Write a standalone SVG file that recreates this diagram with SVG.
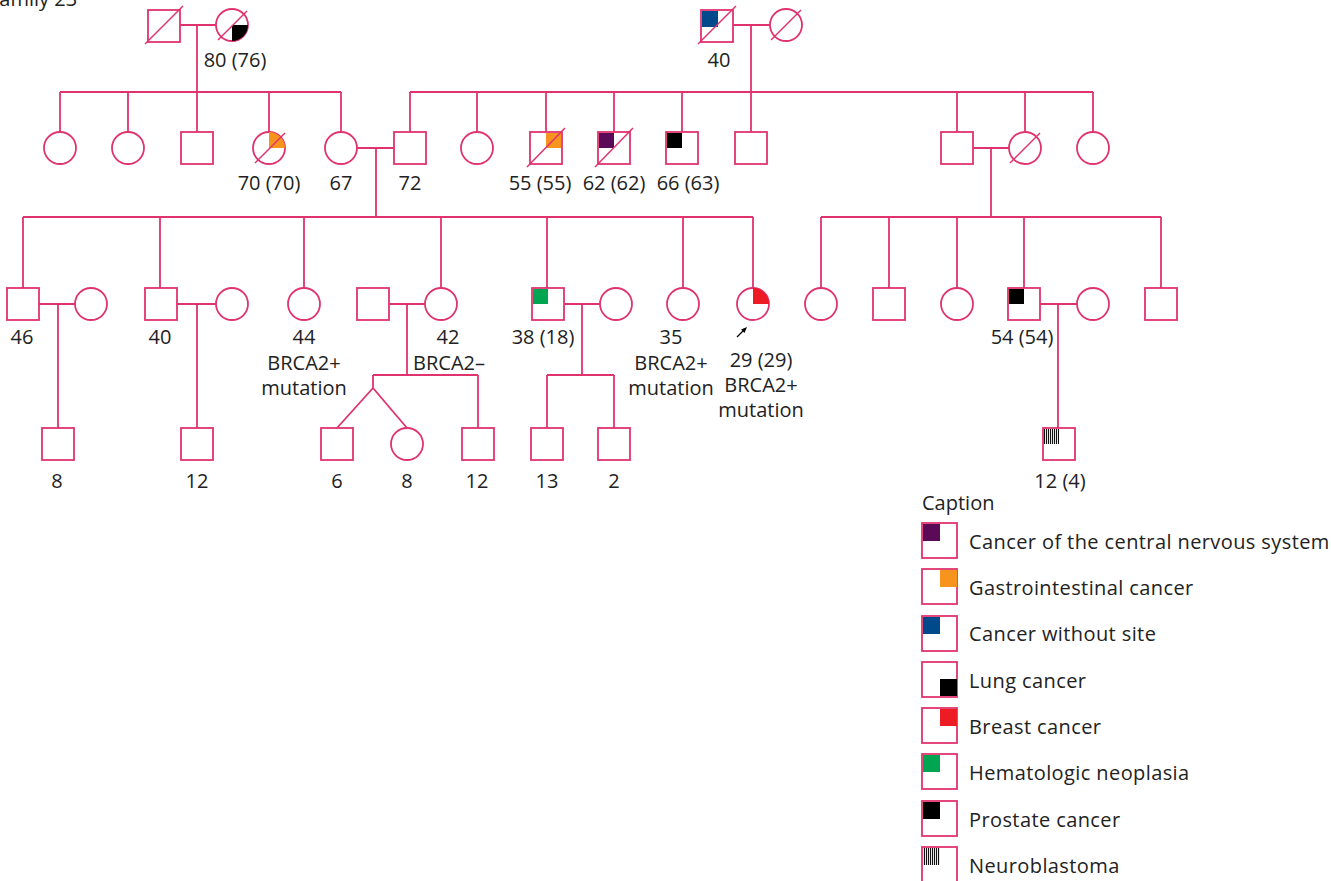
<svg xmlns="http://www.w3.org/2000/svg" width="1331" height="881" viewBox="0 0 1331 881">
<style>
.s{fill:#fff;stroke:#e0336e;stroke-width:1.8}
.l{fill:none;stroke:#e0336e;stroke-width:1.8}
.d{stroke:#e0336e;stroke-width:1.5}
text{font-family:"Open Sans","Liberation Sans",sans-serif;font-size:20px;fill:#222}
.c{text-anchor:middle}
.lg{letter-spacing:0.4px}
.or{fill:#f7941d}.pu{fill:#5a0a57}.bl{fill:#004a8b}.bk{fill:#000}.rd{fill:#ed1c24}.gr{fill:#00a551}
</style>
<defs>
<pattern id="hatch" width="2" height="2" patternUnits="userSpaceOnUse">
<rect width="2" height="2" fill="#fff"/>
<rect width="1.1" height="2" fill="#111"/>
</pattern>
</defs>
<rect width="1331" height="881" fill="#fff"/>
<text x="-11" y="6">Family 23</text>

<g id="connectors">
<path class="l" d="M180,25H216M197,25V92M60,92H341M60,92V132M128,92V132M197,92V132M269,92V132M341,92V132"/>
<path class="l" d="M733,25H770M751,25V92M410,92H1093M410,92V132M477,92V132M546,92V132M614,92V132M682,92V132M751,92V132M957,92V132M1025,92V132M1093,92V132"/>
<path class="l" d="M357,148H394M376,148V217M23,217H753M23,217V288M160,217V288M304,217V288M441,217V288M547,217V288M683,217V288M753,217V288"/>
<path class="l" d="M973,148H1009M991,148V217M821,217H1161M821,217V288M889,217V288M957,217V288M1024,217V288M1161,217V288"/>
<path class="l" d="M39,304H75M58,304V428"/>
<path class="l" d="M177,304H216M197,304V428"/>
<path class="l" d="M389,304H425M407,304V375M373,375H478M373,375V388L337,428M373,388L407,428M478,375V428"/>
<path class="l" d="M563,304H600M582,304V375M547,375H614M547,375V428M614,375V428"/>
<path class="l" d="M1040,304H1077M1058,304V428"/>
</g>

<g id="I1"><rect class="s" x="148" y="10" width="32" height="32"/><line class="d" x1="145" y1="44" x2="183" y2="6"/></g>
<g id="I2"><circle class="s" cx="232" cy="25" r="16"/><path class="bk" d="M232,25H248A16,16 0 0 1 232,41Z"/><line class="d" x1="218" y1="40" x2="247" y2="11"/><text class="c" x="235" y="67">80 (76)</text></g>
<g id="I3"><rect class="s" x="701" y="10" width="32" height="32"/><rect class="bl" x="702" y="11" width="16" height="16"/><line class="d" x1="698" y1="44" x2="736" y2="6"/><text class="c" x="719" y="67">40</text></g>
<g id="I4"><circle class="s" cx="786" cy="25" r="16"/><line class="d" x1="771" y1="40" x2="801" y2="10"/></g>

<g id="II1"><circle class="s" cx="60" cy="148" r="16"/></g>
<g id="II2"><circle class="s" cx="128" cy="148" r="16"/></g>
<g id="II3"><rect class="s" x="181" y="132" width="32" height="32"/></g>
<g id="II4"><circle class="s" cx="269" cy="148" r="16"/><path class="or" d="M269,148V132A16,16 0 0 1 285,148Z"/><line class="d" x1="255" y1="163" x2="285" y2="133"/><text class="c" x="269" y="190">70 (70)</text></g>
<g id="II5"><circle class="s" cx="341" cy="148" r="16"/><text class="c" x="341" y="190">67</text></g>
<g id="II6"><rect class="s" x="394" y="132" width="32" height="32"/><text class="c" x="410" y="190">72</text></g>
<g id="II7"><circle class="s" cx="477" cy="148" r="16"/></g>
<g id="II8"><rect class="s" x="530" y="132" width="32" height="32"/><rect class="or" x="546" y="133" width="15" height="15"/><line class="d" x1="527" y1="167" x2="565" y2="128"/><text class="c" x="540" y="190">55 (55)</text></g>
<g id="II9"><rect class="s" x="598" y="132" width="32" height="32"/><rect class="pu" x="599" y="133" width="15" height="15"/><line class="d" x1="595" y1="167" x2="633" y2="128"/><text class="c" x="614" y="190">62 (62)</text></g>
<g id="II10"><rect class="s" x="666" y="132" width="32" height="32"/><rect class="bk" x="667" y="133" width="15" height="15"/><text class="c" x="688" y="190">66 (63)</text></g>
<g id="II11"><rect class="s" x="735" y="132" width="32" height="32"/></g>
<g id="II12"><rect class="s" x="941" y="132" width="32" height="32"/></g>
<g id="II13"><circle class="s" cx="1025" cy="148" r="16"/><line class="d" x1="1010" y1="163" x2="1040" y2="133"/></g>
<g id="II14"><circle class="s" cx="1093" cy="148" r="16"/></g>

<g id="III1"><rect class="s" x="7" y="288" width="32" height="32"/><text class="c" x="22" y="344">46</text></g>
<g id="III2"><circle class="s" cx="91" cy="304" r="16"/></g>
<g id="III3"><rect class="s" x="145" y="288" width="32" height="32"/><text class="c" x="160" y="344">40</text></g>
<g id="III4"><circle class="s" cx="232" cy="304" r="16"/></g>
<g id="III5"><circle class="s" cx="304" cy="304" r="16"/><text class="c" x="304" y="344">44</text><text class="c" x="304" y="370">BRCA2+</text><text class="c" x="304" y="395">mutation</text></g>
<g id="III6"><rect class="s" x="357" y="288" width="32" height="32"/></g>
<g id="III7"><circle class="s" cx="441" cy="304" r="16"/><text class="c" x="448" y="344">42</text><text class="c" x="449" y="370">BRCA2–</text></g>
<g id="III8"><rect class="s" x="532" y="288" width="32" height="32"/><rect class="gr" x="533" y="289" width="15" height="15"/><text class="c" x="543" y="344">38 (18)</text></g>
<g id="III9"><circle class="s" cx="616" cy="304" r="16"/></g>
<g id="III10"><circle class="s" cx="683" cy="304" r="16"/><text class="c" x="671" y="344">35</text><text class="c" x="671" y="370">BRCA2+</text><text class="c" x="671" y="395">mutation</text></g>
<g id="III11"><circle class="s" cx="753" cy="304" r="16"/><path class="rd" d="M753,304V288A16,16 0 0 1 769,304Z"/>
<line x1="737" y1="337" x2="743" y2="331" stroke="#000" stroke-width="1.3"/><polygon points="747,327 741,329.5 744.5,333" fill="#000"/>
<text class="c" x="761" y="367">29 (29)</text><text class="c" x="761" y="392">BRCA2+</text><text class="c" x="761" y="417">mutation</text></g>
<g id="III12"><circle class="s" cx="821" cy="304" r="16"/></g>
<g id="III13"><rect class="s" x="873" y="288" width="32" height="32"/></g>
<g id="III14"><circle class="s" cx="957" cy="304" r="16"/></g>
<g id="III15"><rect class="s" x="1008" y="288" width="32" height="32"/><rect class="bk" x="1009" y="289" width="15" height="15"/><text class="c" x="1022" y="344">54 (54)</text></g>
<g id="III16"><circle class="s" cx="1093" cy="304" r="16"/></g>
<g id="III17"><rect class="s" x="1145" y="288" width="32" height="32"/></g>

<g id="IV1"><rect class="s" x="42" y="428" width="32" height="32"/><text class="c" x="57" y="488">8</text></g>
<g id="IV2"><rect class="s" x="181" y="428" width="32" height="32"/><text class="c" x="197" y="488">12</text></g>
<g id="IV3"><rect class="s" x="321" y="428" width="32" height="32"/><text class="c" x="337" y="488">6</text></g>
<g id="IV4"><circle class="s" cx="407" cy="444" r="16"/><text class="c" x="407" y="488">8</text></g>
<g id="IV5"><rect class="s" x="462" y="428" width="32" height="32"/><text class="c" x="477" y="488">12</text></g>
<g id="IV6"><rect class="s" x="531" y="428" width="32" height="32"/><text class="c" x="547" y="488">13</text></g>
<g id="IV7"><rect class="s" x="598" y="428" width="32" height="32"/><text class="c" x="614" y="488">2</text></g>
<g id="IV8"><rect class="s" x="1043" y="428" width="32" height="32"/><rect x="1044" y="429" width="15" height="15" fill="url(#hatch)"/><text class="c" x="1060" y="488">12 (4)</text></g>

<g id="legend">
<text x="922" y="510">Caption</text>
<rect class="s" x="922" y="523" width="35" height="35"/><rect class="pu" x="923" y="524" width="17" height="17"/><text class="lg" x="969" y="549">Cancer of the central nervous system</text>
<rect class="s" x="922" y="569" width="35" height="35"/><rect class="or" x="940" y="570" width="17" height="17"/><text class="lg" x="969" y="595">Gastrointestinal cancer</text>
<rect class="s" x="922" y="616" width="35" height="35"/><rect class="bl" x="923" y="617" width="17" height="17"/><text class="lg" x="969" y="641">Cancer without site</text>
<rect class="s" x="922" y="662" width="35" height="35"/><rect class="bk" x="940" y="679" width="17" height="17"/><text class="lg" x="969" y="688">Lung cancer</text>
<rect class="s" x="922" y="708" width="35" height="35"/><rect class="rd" x="940" y="709" width="17" height="17"/><text class="lg" x="969" y="734">Breast cancer</text>
<rect class="s" x="922" y="754" width="35" height="35"/><rect class="gr" x="923" y="755" width="17" height="17"/><text class="lg" x="969" y="780">Hematologic neoplasia</text>
<rect class="s" x="922" y="801" width="35" height="35"/><rect class="bk" x="923" y="802" width="17" height="17"/><text class="lg" x="969" y="827">Prostate cancer</text>
<rect class="s" x="922" y="847" width="35" height="35"/><rect x="923" y="848" width="17" height="17" fill="url(#hatch)"/><text class="lg" x="969" y="873">Neuroblastoma</text>
</g>
</svg>
